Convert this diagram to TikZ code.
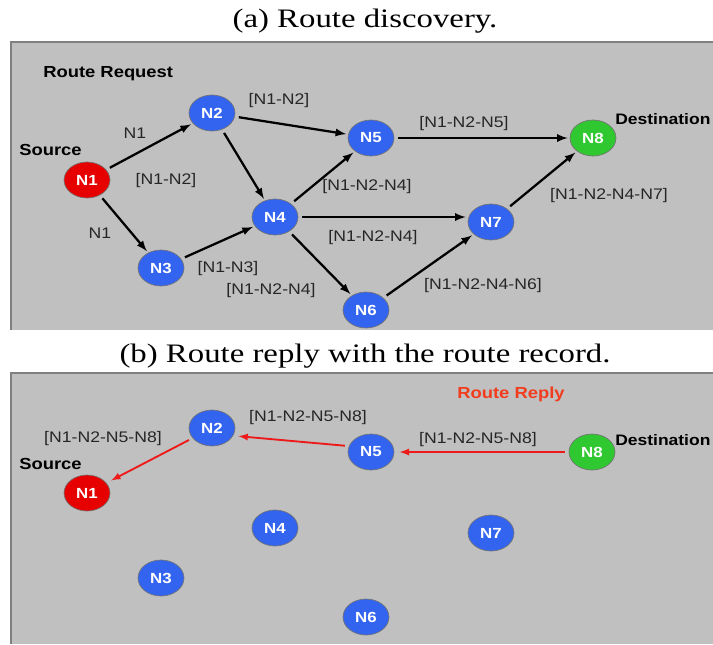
\documentclass[tikz,border=0pt]{standalone}
\usepackage{fontspec}
\usepackage{tikz}
\usetikzlibrary{shapes.geometric}
\newfontfamily\capfont[FakeStretch=1.23]{Liberation Serif}
\newfontfamily\lblfont[FakeStretch=1.15]{Liberation Sans}
\definecolor{panelgray}{HTML}{C0C0C0}
\definecolor{framegray}{HTML}{808080}
\definecolor{hostblue}{HTML}{3264F0}
\definecolor{hostred}{HTML}{E60000}
\definecolor{hostgreen}{HTML}{30C830}
\definecolor{replyred}{HTML}{EE1A1A}
\definecolor{titlered}{HTML}{F23C1E}

\begin{document}
\begin{tikzpicture}[x=0.75pt, y=-0.75pt,
					host/.style={ellipse, draw=black!55, line width=0.5pt, fill=hostblue, minimum width=34.5pt, minimum height=27pt, inner sep=0pt, text=white, font=\lblfont\bfseries\fontsize{11}{11}\selectfont},
					src/.style={host, fill=hostred},
					dst/.style={host, fill=hostgreen},
					tag/.style={text=black!85, inner sep=0pt, font=\lblfont\fontsize{11.5}{12}\selectfont},
					title/.style={inner sep=0pt, font=\lblfont\bfseries\fontsize{12}{12}\selectfont},
					edgetitle/.style={title, anchor=base west, font=\lblfont\bfseries\fontsize{11.4}{12}\selectfont},
					caption/.style={inner sep=0pt, font=\capfont\fontsize{20}{22}\selectfont},
					link/.style={-latex, line width=1.7pt, shorten <=3pt, shorten >=1.5pt},
					reply/.style={link, replyred, line width=1.4pt, shorten >=4pt},]
					\useasboundingbox (0,0) rectangle (713,644);

					\node[caption, anchor=base] (capA) at (365,27) {(a) Route discovery.};
					\fill[panelgray] (11,42) rectangle (713,330);
					\draw[framegray, line width=1.5pt] (11,330) |- (713,42);

					\node[title, anchor=base west] (req) at (43,77) {Route Request};
					\node[title, anchor=base west] (srcA) at (19,155) {Source};
					\node[edgetitle] (dstA) at (615,124) {Destination};

					\node[src] (a1) at (87,180) {N1};
					\node[host] (a2) at (212,113) {N2};
					\node[host] (a3) at (161,268) {N3};
					\node[host] (a4) at (275,217) {N4};
					\node[host] (a5) at (371,138) {N5};
					\node[host] (a6) at (366,310) {N6};
					\node[host] (a7) at (491,222) {N7};
					\node[dst] (a8) at (593,138) {N8};

					\draw[link] (a1) -- (a2);
					\draw[link] (a1) -- (a3);
					\draw[link] (a2) -- (a5);
					\draw[link] (a2) -- (a4);
					\draw[link] (a3) -- (a4);
					\draw[link] (a4) -- (a5);
					\draw[link] (a4) -- (a4 -| a7.west);
					\draw[link] (a4) -- (a6);
					\draw[link] (a5) -- (a8);
					\draw[link] (a6) -- (a7);
					\draw[link] (a7) -- (a8);

					\node[tag] (t12) at (135,133) {N1};
					\node[tag] (t13) at (100,233) {N1};
					\node[tag] (t24a) at (166,181) {[N1-N2]};
					\node[tag] (t25) at (279,101) {[N1-N2]};
					\node[tag] (t34) at (228,269) {[N1-N3]};
					\node[tag] (t46a) at (271,291) {[N1-N2-N4]};
					\node[tag] (t45) at (367,187) {[N1-N2-N4]};
					\node[tag] (t47) at (373,238) {[N1-N2-N4]};
					\node[tag] (t58) at (464,124) {[N1-N2-N5]};
					\node[tag] (t67) at (483,286) {[N1-N2-N4-N6]};
					\node[tag] (t78) at (609,196) {[N1-N2-N4-N7]};

					\node[caption, anchor=base] (capB) at (365,362) {(b) Route reply with the route record.};
					\fill[panelgray] (11,373) rectangle (713,644);
					\draw[framegray, line width=1.5pt] (11,644) |- (713,373);

					\node[title, text=titlered] (rep) at (511,394) {Route Reply};
					\node[title, anchor=base west] (srcB) at (19,469) {Source};
					\node[edgetitle] (dstB) at (615,445) {Destination};

					\node[src] (b1) at (87,493) {N1};
					\node[host] (b2) at (212,428) {N2};
					\node[host] (b3) at (161,578) {N3};
					\node[host] (b4) at (275,528) {N4};
					\node[host] (b5) at (371,452) {N5};
					\node[host] (b6) at (366,617) {N6};
					\node[host] (b7) at (491,533) {N7};
					\node[dst] (b8) at (592,452) {N8};

					\draw[reply] (b8) -- (b5);
					\draw[reply] (b5.165) -- (b2.-20);
					\draw[reply] (b2) -- (b1);

					\node[tag] (r21) at (103,439) {[N1-N2-N5-N8]};
					\node[tag] (r52) at (308,418) {[N1-N2-N5-N8]};
					\node[tag] (r85) at (478,440) {[N1-N2-N5-N8]};
				\end{tikzpicture}
\end{document}
